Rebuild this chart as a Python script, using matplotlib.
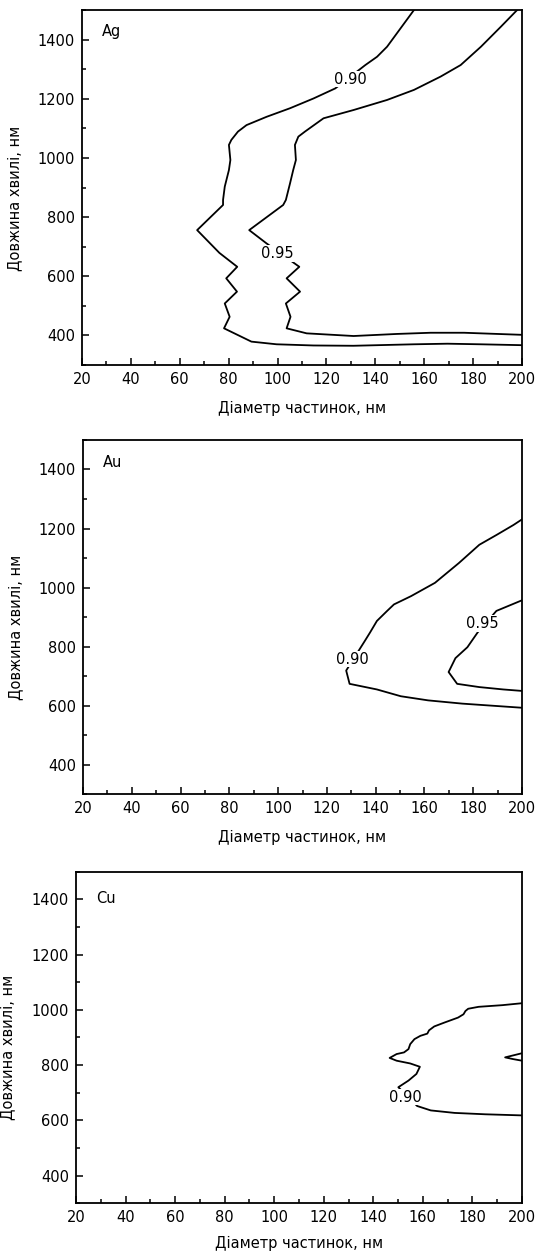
import matplotlib
matplotlib.use("Agg")
import matplotlib.pyplot as plt
from matplotlib.ticker import MultipleLocator

plt.rcParams['font.family'] = ['DejaVu Sans']
plt.rcParams['font.size'] = 10.5

# --- data (diameter, nm / wavelength, nm) ---
ag_090_d = [155.8, 150.3, 144.8, 140.7, 135.9, 123.6, 114.7, 105.1, 95.5, 87.3, 83.8, 81.1,
            80.1, 80.7, 80.1, 78.4, 77.7, 77.7, 67.1, 76.2, 83.5, 79.0, 83.4, 78.4, 80.4,
            78.1, 89.3, 99.6, 114.7, 131.0, 155.8, 169.5, 183.0, 200]
ag_090_wl = [1500, 1438, 1376, 1342, 1314, 1235, 1201, 1168, 1139, 1111, 1089, 1061,
             1044, 993, 959, 903, 858, 841, 756, 679, 632, 593, 548, 508, 463,
             424, 379, 370, 366, 365, 370, 372, 370, 367]
ag_095_d = [198, 191.4, 183.2, 174.9, 166.7, 155.8, 144.8, 131.1, 118.8, 111.2, 108.5,
            107.1, 107.5, 106.4, 105.1, 103.4, 102.3, 88.4, 95.5, 108.9, 103.7, 109.2,
            103.4, 105.3, 103.7, 111.9, 131.1, 148.9, 162.6, 176.3, 200]
ag_095_wl = [1500, 1444, 1376, 1314, 1275, 1230, 1196, 1162, 1134, 1089, 1072,
             1044, 993, 959, 914, 858, 841, 756, 711, 632, 593, 548,
             508, 463, 424, 407, 398, 405, 409, 409, 402]

au_090_d = [200, 196.5, 189.5, 182.5, 174.1, 164.3, 154.5, 147.5, 144.7, 140.5, 137.7,
            135.6, 127.9, 129.3, 140.5, 150.3, 161.5, 175.5, 189.5, 200]
au_090_wl = [1231, 1212, 1178, 1145, 1083, 1016, 971, 943, 921, 887, 848,
             820, 719, 674, 655, 632, 618, 607, 599, 593]
au_095_d = [200, 189.5, 181.8, 177.6, 172.7, 169.9, 173.4, 182.5, 192.3, 200]
au_095_wl = [957, 921, 848, 798, 761, 714, 674, 663, 655, 650]

cu_090_d = [200, 192.1, 182.5, 178.3, 177.2, 176.4, 174.2, 168.7, 164.6, 162.5, 161.8,
            159.0, 156.6, 154.9, 154.2, 152.4, 149.4, 146.6, 149.4, 154.9, 158.8, 157.4,
            154.2, 150.1, 157.7, 163.2, 172.8, 185.2, 200]
cu_090_wl = [1024, 1017, 1011, 1004, 996, 984, 972, 954, 940, 926, 914,
             906, 894, 876, 858, 846, 840, 826, 816, 806, 794, 768,
             744, 720, 652, 636, 627, 622, 618]
cu_090b_d = [200, 193.2, 196.3, 200]
cu_090b_wl = [843, 828, 822, 816]

xticks = [20, 40, 60, 80, 100, 120, 140, 160, 180, 200]
yticks = [400, 600, 800, 1000, 1200, 1400]

panels = [
    ("Ag", [0.1527, 0.7087, 0.8194, 0.2833], 0.94,
     [(ag_090_d, ag_090_wl), (ag_095_d, ag_095_wl)],
     [("0.90", 129.7, 1266), ("0.95", 99.9, 677)]),
    ("Au", [0.1546, 0.3661, 0.8175, 0.2828], 0.937,
     [(au_090_d, au_090_wl), (au_095_d, au_095_wl)],
     [("0.90", 130.4, 758), ("0.95", 183.6, 879)]),
    ("Cu", [0.1415, 0.0397, 0.8305, 0.2646], 0.92,
     [(cu_090_d, cu_090_wl), (cu_090b_d, cu_090b_wl)],
     [("0.90", 152.8, 684)]),
]

fig = plt.figure(figsize=(5.37, 12.53), dpi=100)

for name, rect, ny, curves, labels in panels:
    ax = fig.add_axes(rect)
    for d, wl in curves:
        ax.plot(d, wl, color='black', lw=1.3)
    for txt, lx, ly in labels:
        ax.text(lx, ly, txt, ha='center', va='center', fontsize=10.5, zorder=5,
                bbox=dict(facecolor='white', edgecolor='none', pad=0.5))
    ax.text(0.045, ny, name, transform=ax.transAxes, ha='left', va='center', fontsize=10.5)

    ax.set_xlim(20, 200)
    ax.set_ylim(300, 1500)
    ax.set_xticks(xticks)
    ax.set_yticks(yticks)
    ax.xaxis.set_minor_locator(MultipleLocator(10))
    ax.yaxis.set_minor_locator(MultipleLocator(100))
    ax.tick_params(which='both', direction='in', top=False, right=False, width=1.1)
    ax.tick_params(which='major', length=5, pad=5)
    ax.tick_params(which='minor', length=3)
    for sp in ax.spines.values():
        sp.set_linewidth(1.3)

    ax.set_xlabel("Діаметр частинок, нм")
    ax.set_ylabel("Довжина хвилі, нм")
    ax.xaxis.set_label_coords(0.5, -0.1)
    ax.yaxis.set_label_coords(-0.136, 0.47)

fig.savefig("out.png", dpi=100)
